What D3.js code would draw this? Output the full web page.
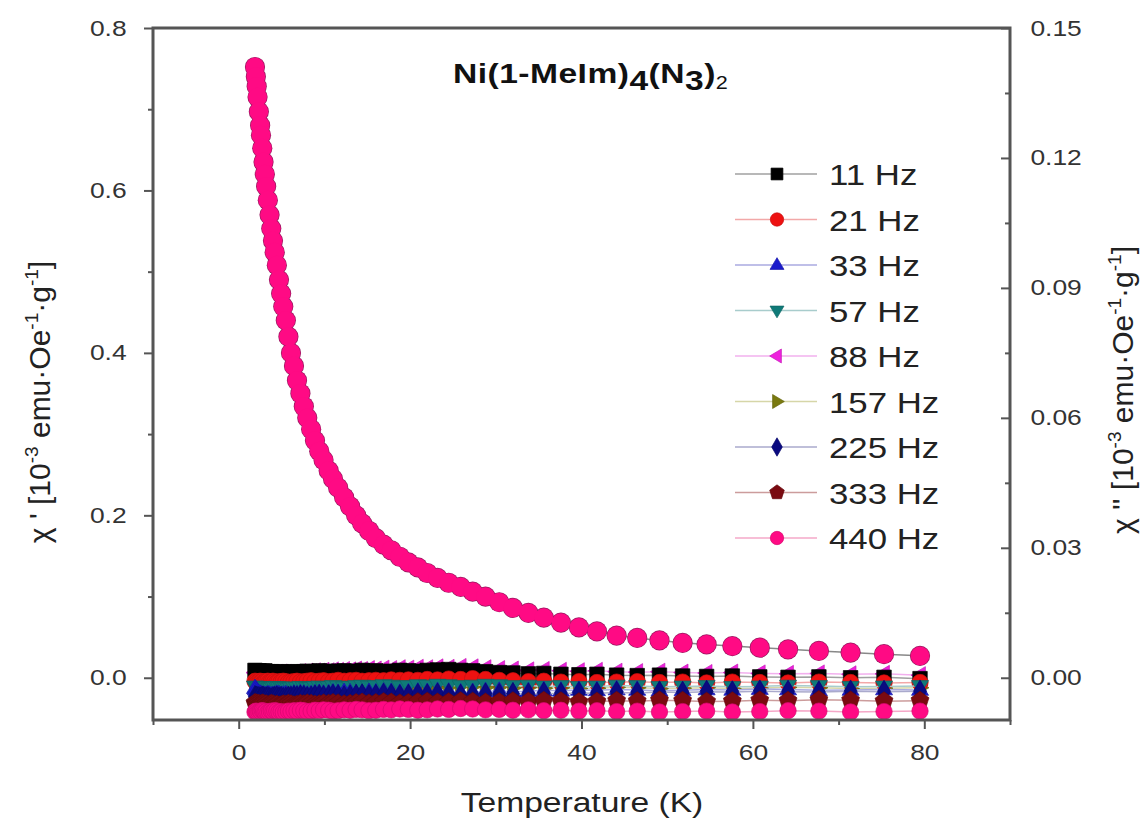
<!DOCTYPE html>
<html>
<head>
<meta charset="utf-8">
<title>Ni(1-MeIm)4(N3)2 ac susceptibility</title>
<style>
  body { margin: 0; background: #fff; }
  svg { font-family: "Liberation Sans", Arial, Helvetica, sans-serif; }
</style>
</head>
<body>
<script src="https://cdn.jsdelivr.net/npm/d3@7"></script>
<script>

// temperatures (K)
var temps = [1.9,2.0,2.1,2.2,2.35,2.5,2.6,2.75,2.9,3.05,3.2,3.4,3.6,3.8,4.0,4.2,4.45,4.7,4.95,5.2,
  5.5,5.8,6.1,6.45,6.8,7.2,7.6,8.0,8.45,8.9,9.4,9.9,10.5,11.0,11.6,12.3,13.0,13.7,14.4,15.2,
  16.0,16.9,17.8,18.8,19.8,20.9,22.0,23.2,24.5,25.9,27.3,28.8,30.4,32.0,33.8,35.6,37.6,39.7,41.8,44.1,
  46.5,49.1,51.8,54.6,57.6,60.8,64.1,67.7,71.4,75.3,79.5];

// chi' (left axis), 440 Hz on top of the others
var chiReal = [0.752,0.740,0.728,0.715,0.697,0.680,0.668,0.652,0.635,0.620,
  0.605,0.588,0.570,0.553,0.538,0.524,0.508,0.490,0.473,0.457,
  0.440,0.420,0.400,0.384,0.366,0.350,0.334,0.320,0.306,0.292,
  0.279,0.268,0.255,0.245,0.234,0.222,0.211,0.200,0.190,0.181,
  0.172,0.164,0.157,0.149,0.142,0.136,0.129,0.123,0.117,0.112,
  0.106,0.100,0.093,0.086,0.080,0.074,0.068,0.062,0.057,0.052,
  0.049,0.046,0.043,0.041,0.039,0.037,0.035,0.033,0.031,0.029,0.027];

// chi'' (right axis), one list per frequency
var chi11 = [0.0017,0.0015,0.0016,0.0014,0.0016,0.0015,0.0013,0.0015,0.0014,0.0016,
  0.0013,0.0014,0.0012,0.0014,0.0013,0.0011,0.0013,0.0012,0.0014,0.0012,
  0.0011,0.0013,0.0012,0.0014,0.0013,0.0012,0.0014,0.0015,0.0013,0.0014,
  0.0016,0.0014,0.0015,0.0013,0.0015,0.0016,0.0014,0.0015,0.0017,0.0015,
  0.0016,0.0014,0.0015,0.0017,0.0016,0.0015,0.0017,0.0018,0.0019,0.0017,
  0.0016,0.0014,0.0012,0.0011,0.0009,0.0010,0.0008,0.0007,0.0008,0.0006,
  0.0005,0.0006,0.0004,0.0003,0.0004,0.0002,0.0001,0.0002,0.0000,0.0001,-0.0002];
var chi21 = [-0.0008,-0.0010,-0.0009,-0.0011,-0.0009,-0.0008,-0.0010,-0.0009,-0.0011,-0.0010,
  -0.0009,-0.0008,-0.0010,-0.0009,-0.0008,-0.0010,-0.0011,-0.0009,-0.0010,-0.0008,
  -0.0009,-0.0011,-0.0010,-0.0009,-0.0008,-0.0010,-0.0009,-0.0008,-0.0007,-0.0009,
  -0.0008,-0.0007,-0.0009,-0.0008,-0.0006,-0.0008,-0.0007,-0.0006,-0.0008,-0.0007,
  -0.0006,-0.0007,-0.0005,-0.0006,-0.0005,-0.0006,-0.0004,-0.0005,-0.0003,-0.0004,
  -0.0002,-0.0004,-0.0006,-0.0007,-0.0009,-0.0008,-0.0010,-0.0009,-0.0011,-0.0010,
  -0.0009,-0.0011,-0.0010,-0.0012,-0.0010,-0.0011,-0.0012,-0.0010,-0.0011,-0.0012,-0.0011];
var chi33 = [-0.0024,-0.0027,-0.0030,-0.0033,-0.0035,-0.0037,-0.0038,-0.0040,-0.0039,-0.0041,
  -0.0040,-0.0038,-0.0039,-0.0041,-0.0040,-0.0039,-0.0037,-0.0038,-0.0040,-0.0039,
  -0.0038,-0.0040,-0.0039,-0.0037,-0.0038,-0.0036,-0.0037,-0.0039,-0.0038,-0.0036,
  -0.0035,-0.0037,-0.0036,-0.0034,-0.0035,-0.0033,-0.0034,-0.0036,-0.0035,-0.0033,
  -0.0034,-0.0032,-0.0033,-0.0035,-0.0034,-0.0032,-0.0033,-0.0031,-0.0032,-0.0034,
  -0.0033,-0.0031,-0.0030,-0.0032,-0.0031,-0.0029,-0.0030,-0.0028,-0.0029,-0.0027,
  -0.0028,-0.0030,-0.0029,-0.0027,-0.0028,-0.0026,-0.0027,-0.0029,-0.0028,-0.0027,-0.0028];
var chi57 = [-0.0020,-0.0022,-0.0021,-0.0023,-0.0022,-0.0024,-0.0023,-0.0021,-0.0022,-0.0024,
  -0.0023,-0.0022,-0.0024,-0.0025,-0.0023,-0.0022,-0.0021,-0.0023,-0.0022,-0.0024,
  -0.0023,-0.0025,-0.0024,-0.0022,-0.0023,-0.0021,-0.0022,-0.0024,-0.0023,-0.0021,
  -0.0020,-0.0022,-0.0021,-0.0019,-0.0020,-0.0022,-0.0021,-0.0019,-0.0018,-0.0020,
  -0.0019,-0.0017,-0.0018,-0.0020,-0.0019,-0.0017,-0.0018,-0.0016,-0.0017,-0.0019,
  -0.0018,-0.0016,-0.0017,-0.0019,-0.0018,-0.0020,-0.0019,-0.0021,-0.0020,-0.0018,
  -0.0019,-0.0021,-0.0020,-0.0019,-0.0021,-0.0020,-0.0018,-0.0019,-0.0021,-0.0020,-0.0019];
var chi88 = [0.0012,0.0010,0.0011,0.0009,0.0010,0.0012,0.0011,0.0009,0.0010,0.0008,
  0.0010,0.0009,0.0011,0.0010,0.0008,0.0009,0.0011,0.0010,0.0012,0.0010,
  0.0011,0.0009,0.0010,0.0012,0.0011,0.0013,0.0012,0.0014,0.0013,0.0015,
  0.0014,0.0016,0.0015,0.0017,0.0016,0.0018,0.0017,0.0019,0.0018,0.0020,
  0.0019,0.0021,0.0020,0.0022,0.0021,0.0023,0.0022,0.0024,0.0023,0.0025,
  0.0024,0.0022,0.0020,0.0019,0.0017,0.0018,0.0016,0.0015,0.0016,0.0014,
  0.0013,0.0014,0.0012,0.0011,0.0012,0.0010,0.0009,0.0010,0.0008,0.0009,0.0006];
var chi157 = [-0.0027,-0.0025,-0.0026,-0.0028,-0.0027,-0.0025,-0.0026,-0.0024,-0.0025,-0.0027,
  -0.0026,-0.0028,-0.0027,-0.0025,-0.0026,-0.0024,-0.0025,-0.0027,-0.0026,-0.0028,
  -0.0027,-0.0025,-0.0026,-0.0024,-0.0025,-0.0023,-0.0024,-0.0026,-0.0025,-0.0023,
  -0.0024,-0.0022,-0.0023,-0.0025,-0.0024,-0.0022,-0.0023,-0.0021,-0.0022,-0.0024,
  -0.0023,-0.0021,-0.0022,-0.0020,-0.0021,-0.0023,-0.0022,-0.0020,-0.0021,-0.0019,
  -0.0020,-0.0022,-0.0021,-0.0023,-0.0022,-0.0024,-0.0023,-0.0025,-0.0024,-0.0022,
  -0.0023,-0.0025,-0.0024,-0.0023,-0.0025,-0.0024,-0.0022,-0.0023,-0.0025,-0.0024,-0.0023];
var chi225 = [-0.0044,-0.0046,-0.0045,-0.0047,-0.0046,-0.0048,-0.0047,-0.0045,-0.0046,-0.0048,
  -0.0047,-0.0046,-0.0048,-0.0049,-0.0047,-0.0046,-0.0045,-0.0047,-0.0046,-0.0048,
  -0.0047,-0.0045,-0.0046,-0.0044,-0.0045,-0.0043,-0.0044,-0.0046,-0.0045,-0.0043,
  -0.0042,-0.0044,-0.0043,-0.0041,-0.0042,-0.0044,-0.0043,-0.0041,-0.0040,-0.0042,
  -0.0041,-0.0039,-0.0040,-0.0042,-0.0041,-0.0039,-0.0040,-0.0038,-0.0039,-0.0041,
  -0.0040,-0.0038,-0.0039,-0.0037,-0.0038,-0.0036,-0.0037,-0.0035,-0.0036,-0.0034,
  -0.0035,-0.0033,-0.0034,-0.0032,-0.0033,-0.0031,-0.0032,-0.0033,-0.0031,-0.0032,-0.0031];
var chi333 = [-0.0058,-0.0060,-0.0059,-0.0061,-0.0060,-0.0062,-0.0061,-0.0059,-0.0060,-0.0062,
  -0.0061,-0.0063,-0.0062,-0.0060,-0.0061,-0.0063,-0.0062,-0.0064,-0.0063,-0.0061,
  -0.0062,-0.0060,-0.0061,-0.0063,-0.0062,-0.0060,-0.0061,-0.0059,-0.0060,-0.0062,
  -0.0061,-0.0059,-0.0060,-0.0058,-0.0059,-0.0061,-0.0060,-0.0058,-0.0057,-0.0059,
  -0.0058,-0.0056,-0.0057,-0.0059,-0.0058,-0.0056,-0.0055,-0.0057,-0.0056,-0.0054,
  -0.0055,-0.0057,-0.0056,-0.0054,-0.0055,-0.0053,-0.0054,-0.0056,-0.0055,-0.0053,
  -0.0054,-0.0052,-0.0053,-0.0055,-0.0054,-0.0052,-0.0053,-0.0051,-0.0052,-0.0054,-0.0053];
var chi440 = [-0.0079,-0.0077,-0.0078,-0.0080,-0.0079,-0.0077,-0.0078,-0.0076,-0.0077,-0.0079,
  -0.0078,-0.0080,-0.0079,-0.0077,-0.0078,-0.0076,-0.0077,-0.0079,-0.0078,-0.0080,
  -0.0079,-0.0077,-0.0078,-0.0076,-0.0077,-0.0075,-0.0076,-0.0078,-0.0077,-0.0075,
  -0.0076,-0.0074,-0.0075,-0.0077,-0.0076,-0.0074,-0.0075,-0.0073,-0.0074,-0.0076,
  -0.0075,-0.0073,-0.0074,-0.0072,-0.0073,-0.0075,-0.0074,-0.0072,-0.0073,-0.0071,
  -0.0072,-0.0074,-0.0073,-0.0075,-0.0074,-0.0076,-0.0075,-0.0077,-0.0076,-0.0078,
  -0.0077,-0.0079,-0.0078,-0.0077,-0.0079,-0.0078,-0.0076,-0.0077,-0.0079,-0.0078,-0.0077];

var freqLabels = ["11 Hz","21 Hz","33 Hz","57 Hz","88 Hz","157 Hz","225 Hz","333 Hz","440 Hz"];
var colors     = ["#000000","#ee1111","#1a1acc","#0f7a78","#ee22dd","#7a7a10","#0a0a80","#7a0a10","#ff0a84"];
var lineColors = ["#a0a0a0","#f2a8a8","#aaaae0","#a8cccc","#f2b0ee","#d6d6a8","#aaaacc","#cc9c9c","#f5a8c8"];
var shapes     = ["square","circle","up","down","left","right","diamond","pentagon","circle"];

var xTicks = [0,20,40,60,80];
var yLeftTicks = [0,0.2,0.4,0.6,0.8];
var yRightTicks = [0,0.03,0.06,0.09,0.12,0.15];

var chiImag = [chi11,chi21,chi33,chi57,chi88,chi157,chi225,chi333,chi440];
var drawOrder = [4,5,0,1,3,2,6,7,8];

var W = 1146, H = 826;
var stretch = 1.2;   // the reference text is a bit wide
var svg = d3.select("body").append("svg").attr("width", W).attr("height", H);

var x = d3.scaleLinear().domain([-10, 90]).range([153, 1010]);
var yL = d3.scaleLinear().domain([-0.052, 0.8]).range([720, 28]);
var yR = d3.scaleLinear().domain([-0.00975, 0.15]).range([720, 28]);

// marker shapes
function triangle(deg) {
  return { draw: function(ctx, size) {
    var a = deg * Math.PI / 180;
    var h = Math.sqrt(size) * 0.62;
    var pts = [[0, -h], [h * 0.95, h * 0.6], [-h * 0.95, h * 0.6]];
    pts.forEach(function(q, i) {
      var px = q[0] * Math.cos(a) - q[1] * Math.sin(a);
      var py = q[0] * Math.sin(a) + q[1] * Math.cos(a);
      if (i === 0) ctx.moveTo(px, py); else ctx.lineTo(px, py);
    });
    ctx.closePath();
  }};
}
var pentagon = { draw: function(ctx, size) {
  var r = Math.sqrt(size / 2.38);
  for (var i = 0; i < 5; i++) {
    var a = -Math.PI / 2 + i * 2 * Math.PI / 5;
    if (i === 0) ctx.moveTo(r * Math.cos(a), r * Math.sin(a)); else ctx.lineTo(r * Math.cos(a), r * Math.sin(a));
  }
  ctx.closePath();
}};
var symbolTypes = {
  square: d3.symbolSquare, circle: d3.symbolCircle,
  up: triangle(0), down: triangle(180), left: triangle(-90), right: triangle(90),
  diamond: d3.symbolDiamond, pentagon: pentagon
};
function symbolPath(i, size) {
  var sz = shapes[i] === "diamond" ? size * 0.7 : size;
  return d3.symbol().type(symbolTypes[shapes[i]]).size(sz)();
}

svg.append("clipPath").attr("id", "plotclip").append("rect")
  .attr("x", 153).attr("y", 28).attr("width", 1010 - 153).attr("height", 720 - 28);

var plot = svg.append("g").attr("clip-path", "url(#plotclip)");

// chi'' series near zero
drawOrder.forEach(function(i) {
  var pts = temps.map(function(t, k) { return [t, chiImag[i][k]]; });
  plot.append("path")
    .attr("d", d3.line().x(function(d) { return x(d[0]); }).y(function(d) { return yR(d[1]); })(pts))
    .attr("fill", "none").attr("stroke", lineColors[i]).attr("stroke-width", 1.5);
  plot.append("g").selectAll("path").data(pts).enter().append("path")
    .attr("transform", function(d) { return "translate(" + x(d[0]) + "," + yR(d[1]) + ")"; })
    .attr("d", symbolPath(i, 210))
    .attr("fill", colors[i])
    .attr("stroke", d3.color(colors[i]).darker(0.5))
    .attr("stroke-width", 0.7);
});

// chi' (440 Hz): thin dark rim layer, then pink discs, so overlapping points merge into one band
var realPts = temps.map(function(t, k) { return [t, chiReal[k]]; });
plot.append("path")
  .attr("d", d3.line().x(function(d) { return x(d[0]); }).y(function(d) { return yL(d[1]); })(realPts))
  .attr("fill", "none").attr("stroke", "#888").attr("stroke-width", 1.5);
plot.append("g").selectAll("circle").data(realPts).enter().append("circle")
  .attr("cx", function(d) { return x(d[0]); })
  .attr("cy", function(d) { return yL(d[1]); })
  .attr("r", 10.1)
  .attr("fill", "#9a1860");
plot.append("g").selectAll("circle").data(realPts).enter().append("circle")
  .attr("cx", function(d) { return x(d[0]); })
  .attr("cy", function(d) { return yL(d[1]); })
  .attr("r", 9.4)
  .attr("fill", colors[8]);

// axes
var axisColor = "#555";
function styleAxis(g, fs) {
  g.select(".domain").remove();
  g.selectAll(".tick line").attr("stroke", axisColor).attr("stroke-width", 2);
  g.selectAll(".tick text").attr("fill", "#333").style("font-size", fs + "px")
    .style("font-family", "'Liberation Sans', Arial, sans-serif");
}

var gx = svg.append("g").attr("transform", "translate(0,720)")
  .call(d3.axisBottom(x).tickValues(xTicks).tickSize(9).tickPadding(15).tickFormat(d3.format("d")));
styleAxis(gx, 22);
gx.selectAll(".tick text").attr("transform", "scale(" + stretch + ",1)");
var gxm = svg.append("g").attr("transform", "translate(0,720)")
  .call(d3.axisBottom(x).tickValues([-10,10,30,50,70,90]).tickSize(5).tickFormat(""));
styleAxis(gxm, 22);

var gyl = svg.append("g").attr("transform", "translate(153,0)")
  .call(d3.axisLeft(yL).tickValues(yLeftTicks).tickSize(9).tickPadding(13).tickFormat(d3.format(".1f")));
styleAxis(gyl, 22);
gyl.selectAll(".tick text").attr("transform", "scale(" + stretch + ",1)");
var gylm = svg.append("g").attr("transform", "translate(153,0)")
  .call(d3.axisLeft(yL).tickValues([0.1,0.3,0.5,0.7]).tickSize(5).tickFormat(""));
styleAxis(gylm, 22);

var gyr = svg.append("g").attr("transform", "translate(1010,0)")
  .call(d3.axisRight(yR).tickValues(yRightTicks).tickSizeInner(-9).tickSizeOuter(0).tickPadding(17).tickFormat(d3.format(".2f")));
styleAxis(gyr, 22);
gyr.selectAll(".tick text").attr("transform", "scale(" + stretch + ",1)");
var gyrm = svg.append("g").attr("transform", "translate(1010,0)")
  .call(d3.axisRight(yR).tickValues([0.015,0.045,0.075,0.105,0.135]).tickSizeInner(-5).tickSizeOuter(0).tickFormat(""));
styleAxis(gyrm, 22);

// frame
svg.append("rect").attr("x", 153).attr("y", 28).attr("width", 1010 - 153).attr("height", 720 - 28)
  .attr("fill", "none").attr("stroke", axisColor).attr("stroke-width", 3);

// title
var title = svg.append("text").attr("transform", "translate(453,83) scale(" + stretch + ",1)")
  .attr("fill", "#111").style("font-size", "28px").style("font-weight", "bold").style("letter-spacing", "0.4px");
title.append("tspan").text("Ni(1-MeIm)");
title.append("tspan").attr("dy", 7).text("4");
title.append("tspan").attr("dy", -7).text("(N");
title.append("tspan").attr("dy", 7).text("3");
title.append("tspan").attr("dy", -7).text(")");
title.append("tspan").attr("dy", 6).style("font-size", "18px").style("font-weight", "normal").text("2");

// axis titles
svg.append("text").attr("transform", "translate(582,812) scale(" + stretch + ",1)").attr("text-anchor", "middle")
  .attr("fill", "#222").style("font-size", "28px").text("Temperature (K)");

function unitLabel(g, prime) {
  g.append("tspan").text("\u03C7 " + prime + " [10");
  g.append("tspan").attr("dy", -12).style("font-size", "19px").text("-3");
  g.append("tspan").attr("dy", 12).text(" emu\u00B7Oe");
  g.append("tspan").attr("dy", -12).style("font-size", "19px").text("-1");
  g.append("tspan").attr("dy", 12).text("\u00B7g");
  g.append("tspan").attr("dy", -12).style("font-size", "19px").text("-1");
  g.append("tspan").attr("dy", 12).text("]");
}
var yl = svg.append("text").attr("transform", "translate(50,402) rotate(-90)")
  .attr("text-anchor", "middle").attr("fill", "#222").style("font-size", "30px");
unitLabel(yl, "'");
var yr = svg.append("text").attr("transform", "translate(1133,390) rotate(-90)")
  .attr("text-anchor", "middle").attr("fill", "#222").style("font-size", "30px");
unitLabel(yr, "''");

// legend
var legendY0 = 174, legendStep = 45.5;
freqLabels.forEach(function(lab, i) {
  var ly = legendY0 + i * legendStep;
  svg.append("line").attr("x1", 735).attr("x2", 817).attr("y1", ly).attr("y2", ly)
    .attr("stroke", lineColors[i]).attr("stroke-width", 1.5);
  svg.append("path").attr("transform", "translate(777," + ly + ")")
    .attr("d", symbolPath(i, 140))
    .attr("fill", colors[i]).attr("stroke", d3.color(colors[i]).darker(0.5)).attr("stroke-width", 0.7);
  svg.append("text").attr("transform", "translate(829," + (ly + 11) + ") scale(" + stretch + ",1)")
    .attr("fill", "#222").style("font-size", "29px").text(lab);
});

</script>
</body>
</html>
